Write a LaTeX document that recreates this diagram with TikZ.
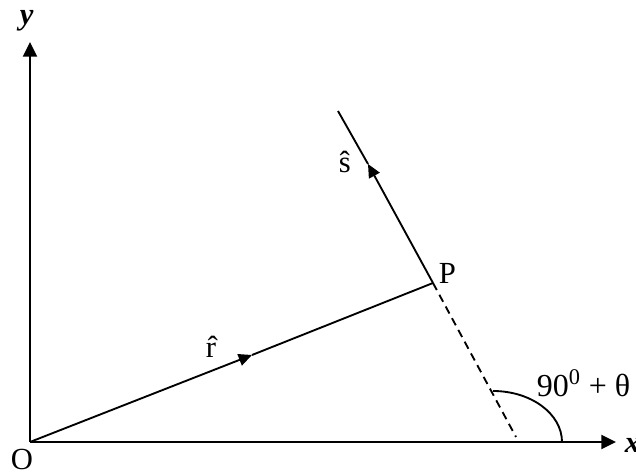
\documentclass[tikz,border=0pt]{standalone}
\usepackage{fontspec}
\setmainfont{Liberation Serif}
\usetikzlibrary{arrows.meta}
\begin{document}
\begin{tikzpicture}[x=0.75pt,y=-0.75pt,
  line width=1.4pt,
  axisarrow/.style={-{Triangle[length=11pt,width=10.5pt]}},
  midarrow/.style={-{Triangle[length=10pt,width=9pt]}},
  lbl/.style={inner sep=0pt,anchor=base west,font=\fontsize{23}{26}\selectfont},
  axlbl/.style={lbl,font=\fontsize{23}{26}\selectfont\bfseries\itshape},
  dashline/.style={dash pattern=on 6pt off 4pt}]
\useasboundingbox (0,0) rectangle (636,473);
% points
\coordinate (O) at (30,442);
\coordinate (ytip) at (30,42);
\coordinate (xtip) at (616,442);
\coordinate (P) at (433,283);
\coordinate (rtip) at (252,355);
\coordinate (stop) at (338,111);
\coordinate (stip) at (368,164);
\coordinate (dend) at (516,437);
\coordinate (arcstart) at (493,391);
% axes
\draw[axisarrow] (O) -- (ytip);
\draw[axisarrow] (O) -- (xtip);
% r vector
\draw[midarrow] (O) -- (rtip);
\draw (rtip) -- (P);
% s vector
\draw[midarrow] (P) -- (stip);
\draw (stip) -- (stop);
% dashed extension
\draw[dashline] (P) -- (dend);
% angle arc
\draw (arcstart) arc[start angle=90,end angle=0,x radius=51.75pt,y radius=38.25pt];
% labels
\node[axlbl] (ylab) at (19,25) {y};
\node[axlbl] (xlab) at (624,453) {x};
\node[lbl] (olab) at (10,470) {O};
\node[lbl] (plab) at (438,284) {P};
\node[lbl] (rlab) at (205,358) {\^{r}};
\node[lbl] (slab) at (338,173) {\^{s}};
\node[lbl,font=\fontsize{24}{27}\selectfont] (anglab) at (536,397) {90\textsuperscript{0} + θ};
\end{tikzpicture}
\end{document}
